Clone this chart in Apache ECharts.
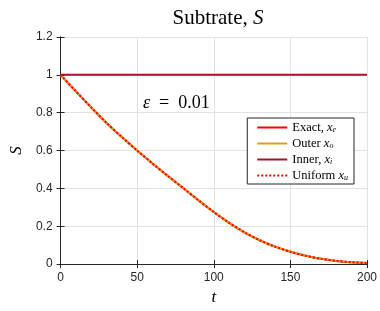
<!DOCTYPE html>
<html><head><meta charset="utf-8">
<script src="https://cdn.jsdelivr.net/npm/echarts@6/dist/echarts.min.js"></script>
<style>html,body{margin:0;padding:0;background:#fff}#c{width:380px;height:311px}</style>
</head><body><div id="c"></div>
<script>
var tValues = [0,10,20,30,40,50,60,70,80,90,100,110,120,130,140,150,160,170,180,190,200];
var exactS = [1,0.913,0.828,0.746,0.671,0.600,0.532,0.466,0.402,0.337,0.275,0.218,0.168,0.126,0.092,0.065,0.044,0.028,0.017,0.010,0.006];
var outerS = [1,0.913,0.828,0.746,0.671,0.600,0.532,0.466,0.402,0.337,0.275,0.218,0.168,0.126,0.092,0.065,0.044,0.028,0.017,0.010,0.006];
var innerS = [1,1,1,1,1,1,1,1,1,1,1,1,1,1,1,1,1,1,1,1,1];
var uniformS = [1,0.913,0.828,0.746,0.671,0.600,0.532,0.466,0.402,0.337,0.275,0.218,0.168,0.126,0.092,0.065,0.044,0.028,0.017,0.010,0.006];

function pairs(ys){ return tValues.map(function(t,i){return [t, ys[i]];}); }
var serif = 'Liberation Serif';
var sans = 'Liberation Sans';
var ax = '#262626';

var chart = echarts.init(document.getElementById('c'), null, {renderer:'canvas'});
var names = ['Exact','Outer','Inner','Uniform'];
var legendRich = {
  n:{fontFamily:serif,fontSize:12.5,color:'#000'},
  i:{fontFamily:serif,fontStyle:'italic',fontSize:12.5,color:'#000'},
  s:{fontFamily:serif,fontStyle:'italic',fontSize:8,color:'#000',padding:[5,0,0,0]}
};
var legendText = {
  Exact:'{n|Exact, }{i|x}{s|e}',
  Outer:'{n|Outer }{i|x}{s|o}',
  Inner:'{n|Inner, }{i|x}{s|i}',
  Uniform:'{n|Uniform }{i|x}{s|u}'
};
chart.setOption({
  animation:false,
  backgroundColor:'#fff',
  title:[{
    text:'{n|Subtrate, }{i|S}',
    left:213, top:3, textAlign:'center',
    textStyle:{rich:{
      n:{fontFamily:serif,fontWeight:'normal',fontSize:21,color:'#000'},
      i:{fontFamily:serif,fontWeight:'normal',fontStyle:'italic',fontSize:21,color:'#000'}
    }}
  },{
    text:'{i|ε}{n|  =  0.01}',
    left:138, top:89,
    textStyle:{rich:{
      i:{fontFamily:serif,fontWeight:'normal',fontStyle:'italic',fontSize:18,color:'#000'},
      n:{fontFamily:serif,fontWeight:'normal',fontSize:18,color:'#000'}
    }}
  }],
  grid:{left:60,right:13,top:37,bottom:42,containLabel:false},
  legend:{
    data:names, orient:'vertical', right:26, top:118,
    backgroundColor:'#fff', borderColor:'#262626', borderWidth:1,
    padding:[3,6,2,9], itemGap:3, itemWidth:30, itemHeight:12,
    itemStyle:{opacity:0},
    formatter:function(n){return legendText[n];},
    textStyle:{rich:legendRich}
  },
  xAxis:[{
    type:'value', min:0, max:200, interval:50,
    name:'t', nameLocation:'middle', nameGap:20,
    nameTextStyle:{fontFamily:serif,fontStyle:'italic',fontSize:17,color:'#000'},
    axisLine:{show:true,lineStyle:{color:ax,width:1}},
    axisTick:{show:true,inside:true,length:4,lineStyle:{color:ax}},
    axisLabel:{fontFamily:sans,fontSize:12,color:ax,margin:8},
    splitLine:{show:true,lineStyle:{color:'#e3e3e3',width:1}}
  },{
    type:'value', position:'top', min:0, max:200, interval:50,
    axisLine:{show:true,lineStyle:{color:ax,width:1}},
    axisTick:{show:true,inside:true,length:4,lineStyle:{color:ax}},
    axisLabel:{show:false}, splitLine:{show:false}
  }],
  yAxis:[{
    type:'value', min:0, max:1.2, interval:0.2,
    name:'S', nameLocation:'middle', nameGap:30, nameRotate:90,
    nameTextStyle:{fontFamily:serif,fontStyle:'italic',fontSize:17,color:'#000'},
    axisLine:{show:true,lineStyle:{color:ax,width:1}},
    axisTick:{show:true,inside:true,length:4,lineStyle:{color:ax}},
    axisLabel:{fontFamily:sans,fontSize:12,color:ax,margin:8,
      formatter:function(v){return String(Math.round(v*10)/10);}},
    splitLine:{show:true,lineStyle:{color:'#e3e3e3',width:1}}
  },{
    type:'value', position:'right', min:0, max:1.2, interval:0.2,
    axisLine:{show:true,lineStyle:{color:ax,width:1}},
    axisTick:{show:true,inside:true,length:4,lineStyle:{color:ax}},
    axisLabel:{show:false}, splitLine:{show:false}
  }],
  series:[
    {name:'Exact',type:'line',data:pairs(exactS),showSymbol:false,symbol:'none',smooth:0.3,
      lineStyle:{color:'#ff0000',width:2},itemStyle:{color:'#ff0000'},z:2},
    {name:'Outer',type:'line',data:pairs(outerS),showSymbol:false,symbol:'none',smooth:0.3,
      lineStyle:{color:'#d9a21b',width:2},itemStyle:{color:'#d9a21b'},z:3},
    {name:'Inner',type:'line',data:pairs(innerS),showSymbol:false,symbol:'none',
      lineStyle:{color:'#a2142f',width:2},itemStyle:{color:'#a2142f'},z:4},
    {name:'Uniform',type:'line',data:pairs(uniformS),showSymbol:false,symbol:'none',smooth:0.3,
      lineStyle:{color:'#ff0000',width:2,type:[2,2]},itemStyle:{color:'#ff0000'},z:5}
  ]
});
</script></body></html>
